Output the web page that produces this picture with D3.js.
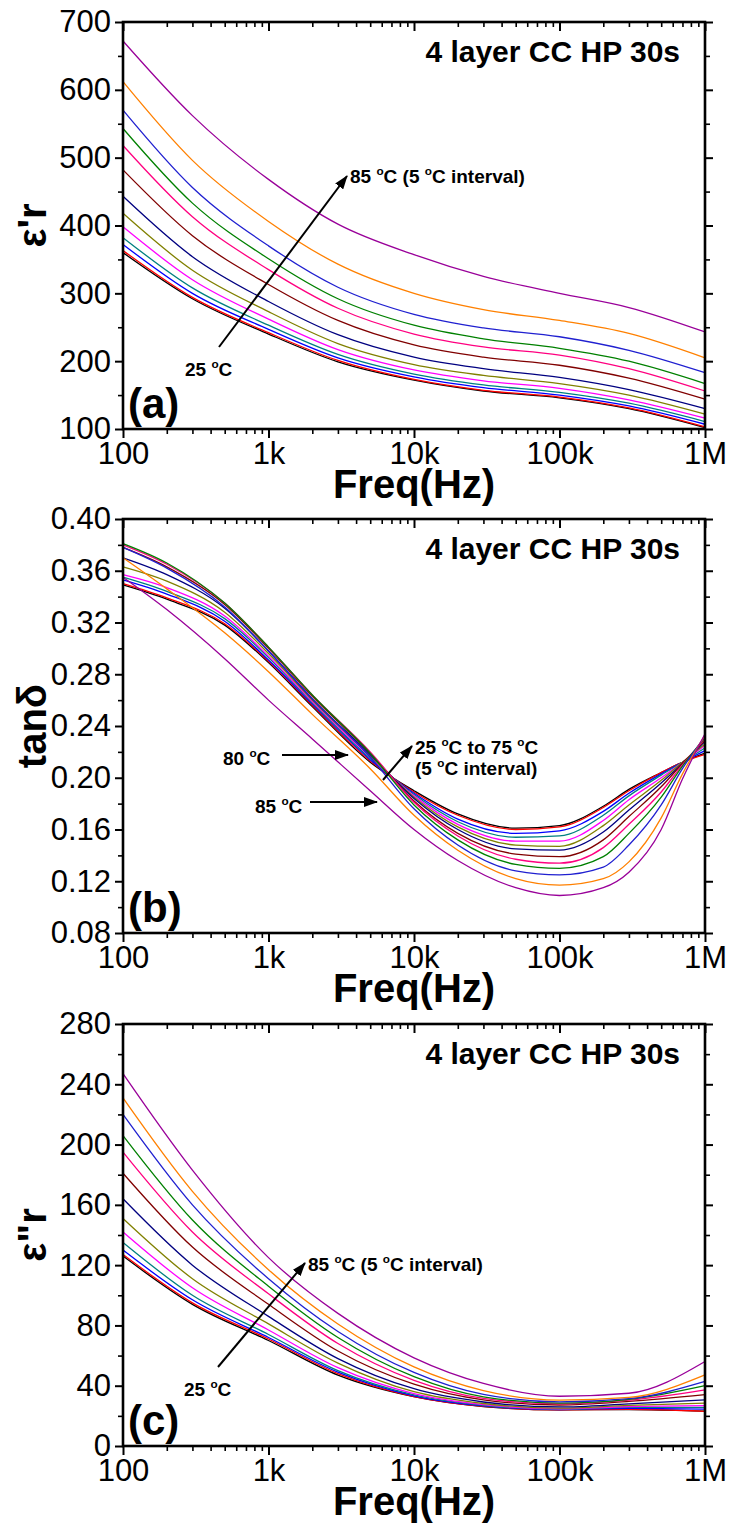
<!DOCTYPE html>
<html>
<head>
<meta charset="utf-8">
<script src="https://cdn.jsdelivr.net/npm/d3@7"></script>
<style>
  body { margin: 0; background: #fff; }
  svg { display: block; }
  text { font-family: Arial, "Liberation Sans", sans-serif; fill: #000; }
</style>
</head>
<body>
<svg id="chart" width="729" height="1526"></svg>
<script>
// Measurement temperatures (°C) and the pen colour used for each one
const temps = [25, 30, 35, 40, 45, 50, 55, 60, 65, 70, 75, 80, 85];
const colors = ["#000000", "#FF0000", "#0000FF", "#008080", "#FF00FF", "#808000",
                "#000080", "#800000", "#FF0080", "#008000", "#2020D0", "#FF8000", "#990099"];

// Frequency axis
const xMajor = [1e2, 1e3, 1e4, 1e5, 1e6];
const xTickLabels = ["100", "1k", "10k", "100k", "1M"];

// (a) real permittivity, one row per temperature
const freqA = [1e2, 3e2, 1e3, 3e3, 1e4, 3e4, 1e5, 3e5, 1e6];
const epsReal = [
  [360, 292, 240, 199, 172, 156, 146, 130, 102],
  [363, 294, 242, 201, 173, 157, 147, 131, 103],
  [372, 300, 247, 205, 177, 161, 150, 134, 107],
  [382, 308, 253, 210, 181, 165, 154, 138, 111],
  [398, 320, 262, 217, 187, 171, 160, 143, 116],
  [418, 334, 273, 226, 195, 179, 167, 150, 122],
  [443, 354, 288, 239, 206, 189, 176, 158, 130],
  [482, 385, 313, 260, 224, 206, 194, 175, 144],
  [518, 413, 335, 278, 240, 221, 209, 189, 156],
  [543, 433, 351, 292, 253, 233, 219, 200, 167],
  [570, 456, 370, 309, 269, 249, 236, 216, 183],
  [612, 496, 406, 343, 300, 276, 260, 241, 205],
  [672, 562, 468, 402, 357, 325, 300, 279, 243]
];
const yTicksA = [100, 200, 300, 400, 500, 600, 700];

// (b) loss tangent
const freqB = [1e2, 2e2, 5e2, 1e3, 2e3, 5e3, 1e4, 2e4, 5e4, 1e5, 2e5, 3e5, 5e5, 7e5, 1e6];
const tanDelta = [
  [0.349, 0.338, 0.318, 0.289, 0.255, 0.212, 0.190, 0.172, 0.161, 0.163, 0.178, 0.191, 0.204, 0.212, 0.219],
  [0.350, 0.339, 0.319, 0.290, 0.256, 0.213, 0.189, 0.171, 0.160, 0.162, 0.177, 0.190, 0.204, 0.212, 0.218],
  [0.353, 0.342, 0.321, 0.291, 0.257, 0.214, 0.188, 0.168, 0.157, 0.159, 0.174, 0.188, 0.203, 0.212, 0.221],
  [0.355, 0.344, 0.323, 0.293, 0.258, 0.215, 0.187, 0.166, 0.154, 0.155, 0.171, 0.186, 0.202, 0.212, 0.223],
  [0.357, 0.347, 0.325, 0.294, 0.259, 0.216, 0.186, 0.164, 0.151, 0.151, 0.167, 0.183, 0.200, 0.212, 0.225],
  [0.363, 0.352, 0.328, 0.296, 0.260, 0.217, 0.185, 0.162, 0.148, 0.147, 0.163, 0.179, 0.198, 0.212, 0.226],
  [0.370, 0.357, 0.331, 0.298, 0.261, 0.218, 0.184, 0.160, 0.145, 0.144, 0.158, 0.175, 0.196, 0.211, 0.228],
  [0.378, 0.363, 0.334, 0.300, 0.263, 0.219, 0.182, 0.157, 0.141, 0.139, 0.152, 0.170, 0.193, 0.211, 0.229],
  [0.380, 0.365, 0.335, 0.301, 0.264, 0.220, 0.181, 0.155, 0.137, 0.134, 0.146, 0.164, 0.189, 0.210, 0.230],
  [0.381, 0.366, 0.335, 0.301, 0.264, 0.219, 0.179, 0.152, 0.133, 0.130, 0.139, 0.157, 0.185, 0.209, 0.231],
  [0.378, 0.362, 0.332, 0.298, 0.261, 0.216, 0.176, 0.148, 0.128, 0.125, 0.131, 0.148, 0.179, 0.207, 0.232],
  [0.370, 0.346, 0.312, 0.282, 0.249, 0.207, 0.171, 0.144, 0.122, 0.117, 0.122, 0.135, 0.169, 0.203, 0.233],
  [0.355, 0.330, 0.292, 0.260, 0.230, 0.190, 0.160, 0.136, 0.115, 0.109, 0.115, 0.127, 0.160, 0.199, 0.234]
];
const yTicksB = [0.08, 0.12, 0.16, 0.20, 0.24, 0.28, 0.32, 0.36, 0.40];

// (c) imaginary permittivity
const freqC = [1e2, 3e2, 1e3, 3e3, 1e4, 3e4, 1e5, 3e5, 1e6];
const epsImag = [
  [126, 94, 70, 47, 32.7, 26.2, 24.0, 24.2, 23.2],
  [127, 95, 71, 48, 32.8, 26.3, 24.0, 24.4, 23.0],
  [130, 97, 72, 49, 33.3, 26.6, 24.2, 25.0, 24.5],
  [135, 100, 74, 50, 33.9, 27.0, 24.4, 25.6, 25.6],
  [142, 105, 77, 52, 34.8, 27.5, 24.7, 26.2, 26.8],
  [151, 111, 81, 55, 36.0, 28.2, 25.1, 27.0, 28.4],
  [164, 120, 86, 58, 38.0, 29.2, 25.9, 28.0, 30.6],
  [181, 132, 94, 63, 41.0, 30.6, 27.2, 29.6, 34.1],
  [195, 142, 101, 68, 43.6, 31.6, 28.0, 30.4, 37.3],
  [206, 150, 106, 72, 46.0, 32.6, 28.5, 31.0, 40.1],
  [220, 160, 111, 76, 48.8, 34.2, 29.3, 31.4, 42.8],
  [231, 169, 117, 81, 52.5, 36.8, 30.5, 32.2, 47.2],
  [247, 183, 125, 88, 58.5, 41.5, 33.0, 35.0, 56.1]
];
const yTicksC = [0, 40, 80, 120, 160, 200, 240, 280];

const sampleTitle = "4 layer CC HP 30s";

// ---------------------------------------------------------------------------
const svg = d3.select("#chart");
const plotLeft = 123, plotRight = 705;
const x = d3.scaleLog().domain([1e2, 1e6]).range([plotLeft, plotRight]);

const xMinor = [];
for (let dec = 1e2; dec < 1e6; dec *= 10) for (let m = 2; m <= 9; m++) xMinor.push(dec * m);

const defs = svg.append("defs");
defs.append("marker")
  .attr("id", "arrowhead")
  .attr("markerUnits", "userSpaceOnUse")
  .attr("markerWidth", 14).attr("markerHeight", 10)
  .attr("refX", 13).attr("refY", 5)
  .attr("orient", "auto")
  .append("path").attr("d", "M0,0 L14,5 L0,10 Z").attr("fill", "#000");

// writes a string into a <text>, turning "°" into a small raised "o"
function degreeText(sel, str, size) {
  str.split("°").forEach((part, i) => {
    if (i > 0) {
      sel.append("tspan").attr("font-size", size * 0.62).attr("dy", -size * 0.42).text("o");
      sel.append("tspan").attr("dy", size * 0.42).text(part);
    } else {
      sel.append("tspan").text(part);
    }
  });
}

function label(x0, y0, str, size = 19, anchor = "start") {
  const t = svg.append("text").attr("x", x0).attr("y", y0)
    .attr("font-size", size).attr("font-weight", "bold").attr("text-anchor", anchor);
  degreeText(t, str, size);
  return t;
}

function arrow(x1, y1, x2, y2) {
  svg.append("line").attr("x1", x1).attr("y1", y1).attr("x2", x2).attr("y2", y2)
    .attr("stroke", "#000").attr("stroke-width", 2).attr("marker-end", "url(#arrowhead)");
}

function panel(cfg) {
  const { top, bottom, domain, ticks, minorStep, fmt, freq, rows, letter, yTitle } = cfg;
  const y = d3.scaleLinear().domain(domain).range([bottom, top]);
  const g = svg.append("g");

  // curves
  const line = d3.line().x(d => x(d[0])).y(d => y(d[1])).curve(d3.curveMonotoneX);
  rows.forEach((row, i) => {
    g.append("path")
      .datum(freq.map((f, j) => [f, row[j]]))
      .attr("d", line)
      .attr("fill", "none")
      .attr("stroke", colors[i])
      .attr("stroke-width", 1.3);
  });

  const yMinor = [];
  for (let v = domain[0] + minorStep; v < domain[1]; v += 2 * minorStep) yMinor.push(+v.toFixed(4));

  const styleAxis = a => {
    a.select(".domain").remove();
    a.selectAll(".tick line").attr("stroke", "#000");
    a.selectAll("text").attr("font-size", 31).attr("font-family", "Arial, 'Liberation Sans', sans-serif").attr("fill", "#000");
  };

  // bottom axis (ticks outward)
  g.append("g").attr("transform", `translate(0,${bottom})`)
    .call(d3.axisBottom(x).tickValues(xMajor).tickFormat((d, i) => xTickLabels[i]).tickSize(9).tickPadding(4))
    .call(styleAxis).call(a => a.selectAll(".tick line").attr("stroke-width", 2));
  g.append("g").attr("transform", `translate(0,${bottom})`)
    .call(d3.axisBottom(x).tickValues(xMinor).tickFormat("").tickSize(5))
    .call(styleAxis).call(a => a.selectAll(".tick line").attr("stroke-width", 1.6));

  // top axis (ticks pointing into the plot)
  g.append("g").attr("transform", `translate(0,${top})`)
    .call(d3.axisTop(x).tickValues(xMajor).tickFormat("").tickSize(-9))
    .call(styleAxis).call(a => a.selectAll(".tick line").attr("stroke-width", 2));
  g.append("g").attr("transform", `translate(0,${top})`)
    .call(d3.axisTop(x).tickValues(xMinor).tickFormat("").tickSize(-5))
    .call(styleAxis).call(a => a.selectAll(".tick line").attr("stroke-width", 1.6));

  // left axis
  g.append("g").attr("transform", `translate(${plotLeft},0)`)
    .call(d3.axisLeft(y).tickValues(ticks).tickFormat(fmt).tickSize(8).tickPadding(4))
    .call(styleAxis).call(a => a.selectAll(".tick line").attr("stroke-width", 2));
  g.append("g").attr("transform", `translate(${plotLeft},0)`)
    .call(d3.axisLeft(y).tickValues(yMinor).tickFormat("").tickSize(5))
    .call(styleAxis).call(a => a.selectAll(".tick line").attr("stroke-width", 1.6));

  // right axis
  g.append("g").attr("transform", `translate(${plotRight},0)`)
    .call(d3.axisRight(y).tickValues(ticks).tickFormat("").tickSize(8))
    .call(styleAxis).call(a => a.selectAll(".tick line").attr("stroke-width", 2));
  g.append("g").attr("transform", `translate(${plotRight},0)`)
    .call(d3.axisRight(y).tickValues(yMinor).tickFormat("").tickSize(5))
    .call(styleAxis).call(a => a.selectAll(".tick line").attr("stroke-width", 1.6));

  // frame
  g.append("rect").attr("x", plotLeft).attr("y", top)
    .attr("width", plotRight - plotLeft).attr("height", bottom - top)
    .attr("fill", "none").attr("stroke", "#000").attr("stroke-width", 2.6);

  // titles
  g.append("text").attr("x", (plotLeft + plotRight) / 2).attr("y", bottom + 69)
    .attr("text-anchor", "middle").attr("font-size", 40).attr("font-weight", "bold")
    .text("Freq(Hz)");
  g.append("text").attr("transform", `translate(46,${(top + bottom) / 2}) rotate(-90)`)
    .attr("text-anchor", "middle").attr("font-size", 40).attr("font-weight", "bold")
    .text(yTitle);
  g.append("text").attr("x", 680).attr("y", top + 40)
    .attr("text-anchor", "end").attr("font-size", 30).attr("font-weight", "bold")
    .text(sampleTitle);
  g.append("text").attr("x", 128).attr("y", bottom - 11)
    .attr("font-size", 42).attr("font-weight", "bold")
    .text(letter);
}

panel({ top: 22, bottom: 429, domain: [100, 700], ticks: yTicksA, minorStep: 50,
        fmt: d3.format("d"), freq: freqA, rows: epsReal, letter: "(a)", yTitle: "ε'r" });
panel({ top: 519, bottom: 933, domain: [0.08, 0.40], ticks: yTicksB, minorStep: 0.02,
        fmt: d3.format(".2f"), freq: freqB, rows: tanDelta, letter: "(b)", yTitle: "tanδ" });
panel({ top: 1024, bottom: 1446, domain: [0, 280], ticks: yTicksC, minorStep: 20,
        fmt: d3.format("d"), freq: freqC, rows: epsImag, letter: "(c)", yTitle: "ε\"r" });

// annotations, panel (a)
arrow(219, 347, 347, 176);
label(350, 183, "85 °C (5 °C interval)");
label(185, 376, "25 °C");

// annotations, panel (b)
label(223, 765, "80 °C");
arrow(282, 755, 348, 755);
label(255, 813, "85 °C");
arrow(310, 802, 377, 802);
label(415, 754, "25 °C to 75 °C");
label(415, 775, "(5 °C interval)");
arrow(383, 780, 412, 746);

// annotations, panel (c)
arrow(218, 1367, 305, 1263);
label(308, 1271, "85 °C (5 °C interval)");
label(184, 1396, "25 °C");
</script>
</body>
</html>
